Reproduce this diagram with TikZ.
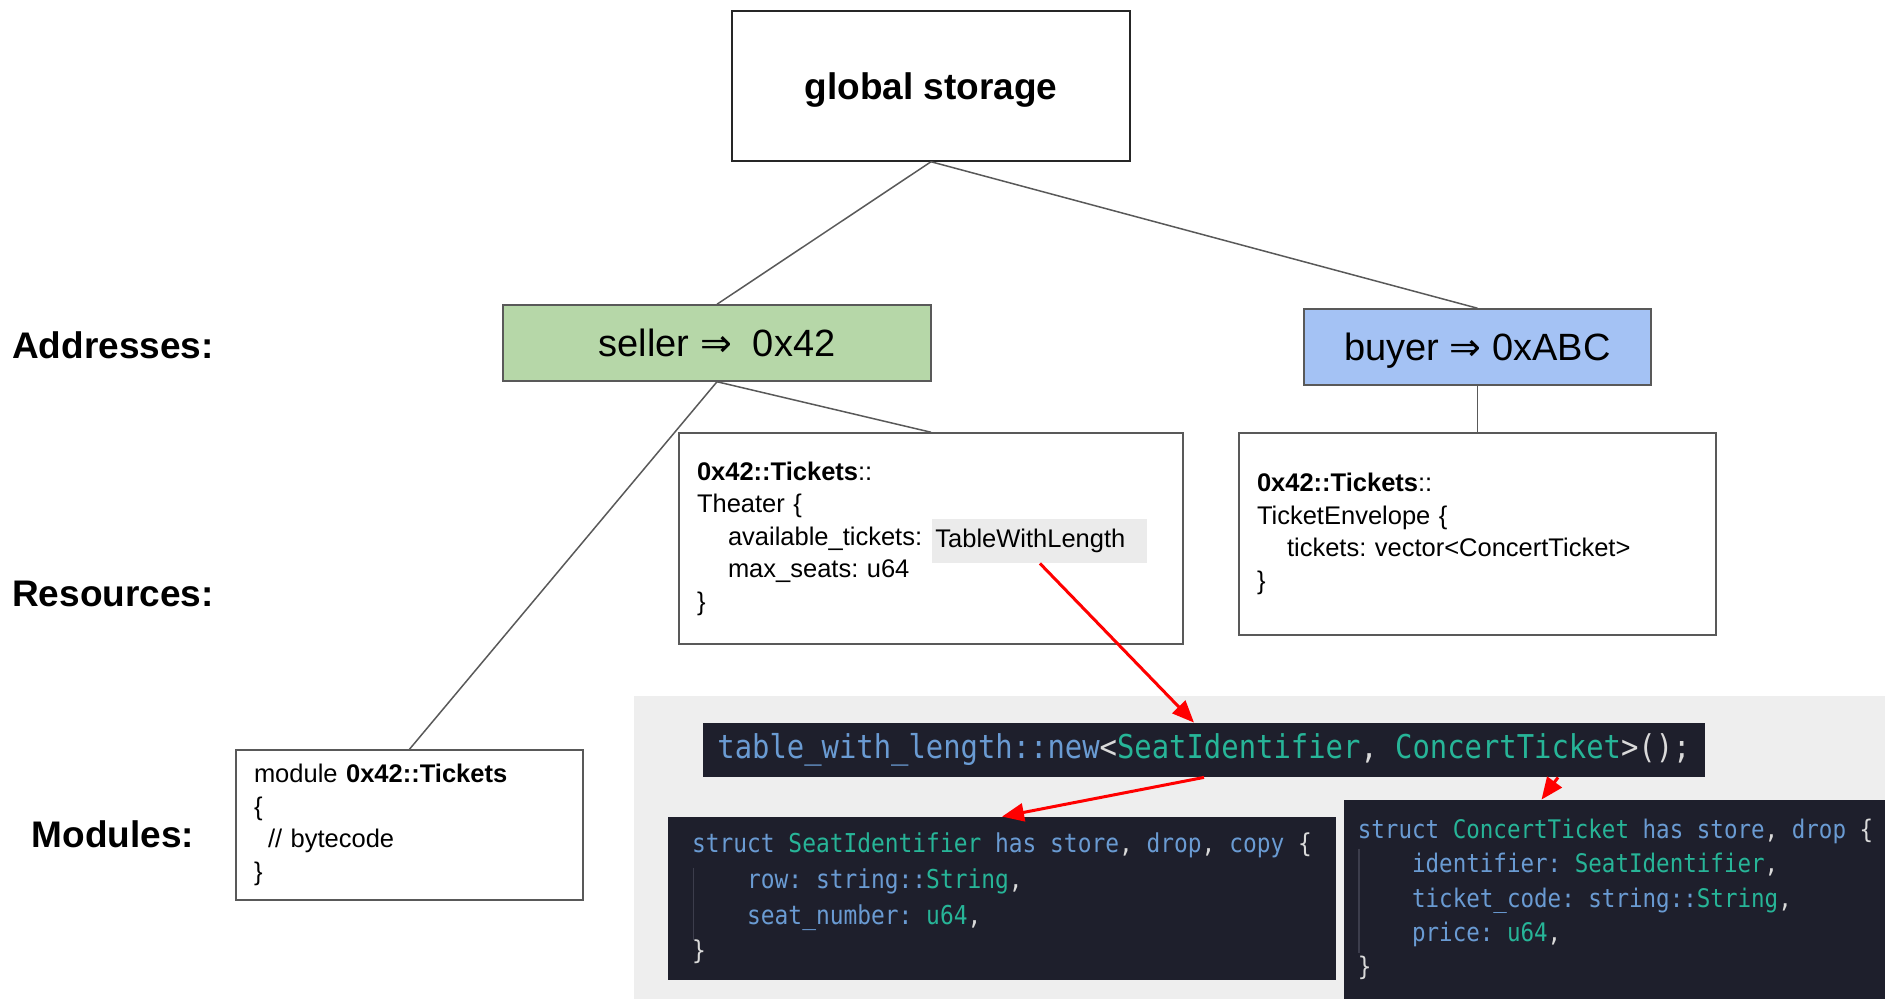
\documentclass[tikz,border=0pt]{standalone}
\usepackage{fontspec}
\setmainfont{Liberation Sans}
\newfontfamily\symfont{DejaVu Sans}
\newfontfamily\codefont[FakeStretch=0.88]{DejaVu Sans Mono}
\usetikzlibrary{arrows.meta, positioning}
\frenchspacing

\definecolor{sellergreen}{HTML}{B6D7A8}
\definecolor{buyerblue}{HTML}{A4C2F4}
\definecolor{panelgray}{HTML}{EEEEEE}
\definecolor{hlgray}{HTML}{EBEBEB}
\definecolor{codebg}{HTML}{1E1F2C}
\definecolor{kwblue}{HTML}{6A9BD3}
\definecolor{tyteal}{HTML}{27B598}
\definecolor{punct}{HTML}{DADADA}
\definecolor{edgegray}{HTML}{595959}
\definecolor{guidegray}{HTML}{3C3D4C}

\newcommand{\kw}[1]{\textcolor{kwblue}{#1}}
\newcommand{\ty}[1]{\textcolor{tyteal}{#1}}
\newcommand{\arr}{{\symfont ⇒}}
\newcommand{\ind}{\phantom{xxxx}}

\begin{document}
\begin{tikzpicture}[x=0.5pt,y=-0.5pt,
  level label/.style={font=\fontsize{18.5}{22}\selectfont\bfseries},
  addr/.style={draw=edgegray,line width=0.75pt,minimum height=38pt,font=\fontsize{19}{22}\selectfont},
  res/.style={draw=edgegray,line width=0.75pt,align=left,inner xsep=9pt,
    font=\fontsize{12.75}{16.25}\selectfont},
  code/.style={fill=codebg,text=punct,align=left,inner ysep=0pt},
  link/.style={draw=edgegray,line width=0.75pt},
  ref/.style={-{Triangle[length=11pt,width=9pt]},red,line width=1.5pt},
  guide/.style={draw=guidegray,line width=0.6pt}]
  \useasboundingbox (0,0) rectangle (1885,999);

  % level labels
  \node[level label] (addresses) at (113,345) {Addresses:};
  \node[level label] (resources) at (113,594) {Resources:};
  \node[level label] (modules) at (113,834) {Modules:};

  % storage tree
  \node[draw=black!85,line width=0.75pt,minimum width=199pt,minimum height=75pt,text depth=0pt,
    font=\fontsize{18.5}{22}\selectfont\bfseries] (global) at (931,86) {global storage};
  \node[addr,fill=sellergreen,minimum width=214pt,text depth=0pt] (seller) at (717,343) {seller \arr{}\ \ 0x42};
  \node[addr,fill=buyerblue,minimum width=173.5pt,text depth=0pt] (buyer) at (1477.5,347) {buyer \arr{} 0xABC};

  \node[res,text width=234pt,minimum height=105.5pt] (theater) at (931,538.5)
    {\textbf{0x42::Tickets}::\\Theater \{\\\hspace*{15.5pt}available\_tickets:\\\hspace*{15.5pt}max\_seats: u64\\\}};
  \node[fill=hlgray,anchor=west,inner xsep=1.5pt,text width=104.5pt,minimum height=22pt,
    font=\fontsize{12.75}{16.25}\selectfont] (hl) at (932,541) {TableWithLength};
  \node[res,text width=220.5pt,minimum height=101pt] (envelope) at (1477.5,534)
    {\textbf{0x42::Tickets}::\\TicketEnvelope \{\\\hspace*{15pt}tickets: vector<ConcertTicket>\\\}};
  \node[res,text width=155.5pt,minimum height=75pt] (module) at (409.5,825)
    {module \textbf{0x42::Tickets}\\\{\\\hspace*{7pt}// bytecode\\\}};

  \path[link]
    (global.south) edge (seller.north)
                   edge (buyer.north)
    (seller.south) edge (theater.north)
                   edge (module.north)
    (buyer.south)  edge (envelope.north);

  % code screenshots
  \node[fill=panelgray,anchor=north west,minimum width=625.5pt,minimum height=151.5pt,
    inner sep=0pt] (panel) at (634,696) {};
  \node[code,minimum width=501pt,minimum height=27pt,
    font=\codefont\fontsize{16.4}{20}\selectfont] (bar) at (1204,750)
    {\kw{table\_with\_length::new}<\ty{SeatIdentifier}, \ty{ConcertTicket}>();};
  \node[code,minimum width=334pt,minimum height=81.5pt,inner xsep=11.5pt,
    font=\codefont\fontsize{13}{17.8}\selectfont] (seat) at (1002,898.5)
    {\kw{struct} \ty{SeatIdentifier} \kw{has} \kw{store}, \kw{drop}, \kw{copy} \{\\
     \ind\kw{row:} \kw{string::}\ty{String},\\
     \ind\kw{seat\_number:} \ty{u64},\\
     \}};
  \node[code,minimum width=269.5pt,minimum height=99.5pt,inner xsep=7pt,
    font=\codefont\fontsize{12.8}{17.2}\selectfont] (concert) at (1615.5,899.5)
    {\kw{struct} \ty{ConcertTicket} \kw{has} \kw{store}, \kw{drop} \{\\
     \ind\kw{identifier:} \ty{SeatIdentifier},\\
     \ind\kw{ticket\_code:} \kw{string::}\ty{String},\\
     \ind\kw{price:} \ty{u64},\\
     \}};
  \draw[guide] ([shift={(13pt,-25.5pt)}]seat.north west) -- ([shift={(13pt,-61.5pt)}]seat.north west);
  \draw[guide] ([shift={(7.75pt,-24.5pt)}]concert.north west) -- ([shift={(7.75pt,-76.5pt)}]concert.north west);

  % red pointers
  \draw[ref] (hl.south) -- ([xshift=-5pt]bar.north);
  \draw[ref] (bar.south) -- (seat.north);
  \draw[ref] ([xshift=177pt]bar.south) -- ([xshift=-37pt]concert.north);
\end{tikzpicture}
\end{document}
